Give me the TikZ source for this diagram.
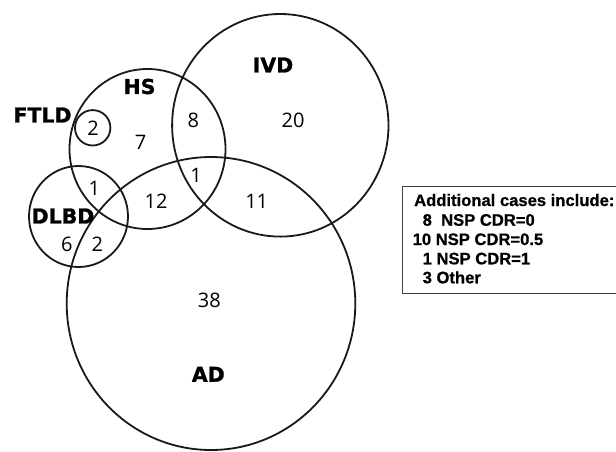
\documentclass[tikz,border=0pt]{standalone}
\usepackage{fontspec}
\setmainfont{Open Sans}
\newfontfamily\labfont{DejaVu Sans}[BoldFeatures={FakeBold=1.2}]
\newfontfamily\legfont{Liberation Sans}[BoldFeatures={FakeBold=0.8}]
\begin{document}
\begin{tikzpicture}[x=1pt,y=-1pt,
  setline/.style={line width=1.8pt, draw=black!90},
  count/.style={inner sep=0pt, font=\fontsize{20}{24}\selectfont},
  setname/.style={inner sep=0pt, font=\labfont\bfseries\fontsize{20.5}{24}\selectfont},
  legline/.style={inner sep=0pt, anchor=base west, font=\legfont\bfseries\fontsize{16.6}{20}\selectfont}]
\useasboundingbox (0,0) rectangle (616,451);

% the five sets
\draw[setline] (280.3,125.3) ellipse [x radius=108.2, y radius=111.3]; % IVD
\draw[setline] (147.5,149) ellipse [x radius=78, y radius=80];         % HS
\draw[setline] (211,303.5) ellipse [x radius=144.3, y radius=146.5];   % AD
\draw[setline] (78.5,216.5) ellipse [x radius=49.5, y radius=50.5];    % DLBD
\draw[setline] (92.7,127.8) circle [radius=17.7];                      % FTLD

% set names
\node[setname] (nIVD)  at (273,65)    {IVD};
\node[setname] (nHS)   at (139.5,86.5) {HS};
\node[setname] (nFTLD) at (42.5,115)  {FTLD};
\node[setname] (nDLBD) at (63,216)    {DLBD};
\node[setname] (nAD)   at (208.3,374.3) {AD};

% region counts
\node[count] (cFTLD)  at (93,128)    {2};
\node[count] (cHS)    at (140.7,142) {7};
\node[count] (cHSIVD) at (193.3,120) {8};
\node[count] (cIVD)   at (293,120.7) {20};
\node[count] (cTri)   at (196,175)   {1};
\node[count] (cDH)    at (94.3,188.3) {1};
\node[count] (cHSAD)  at (156,201)   {12};
\node[count] (cIVDAD) at (256.7,201) {11};
\node[count] (cDLBD)  at (66.8,244.5) {6};
\node[count] (cDAD)   at (97.4,244.5) {2};
\node[count] (cAD)    at (209.3,300.5) {38};

% legend
\draw[line width=1.3pt, draw=black!75] (402.3,186.7) rectangle (620,293.3);
\node[legline] (l1) at (414,206)   {Additional cases include:};
\node[legline] (l2) at (422.5,225.7) {8\ \ NSP CDR=0};
\node[legline] (l3) at (412.5,245) {10 NSP CDR=0.5};
\node[legline] (l4) at (422.5,264.3) {1 NSP CDR=1};
\node[legline] (l5) at (422.5,283.3) {3 Other};
\end{tikzpicture}
\end{document}
